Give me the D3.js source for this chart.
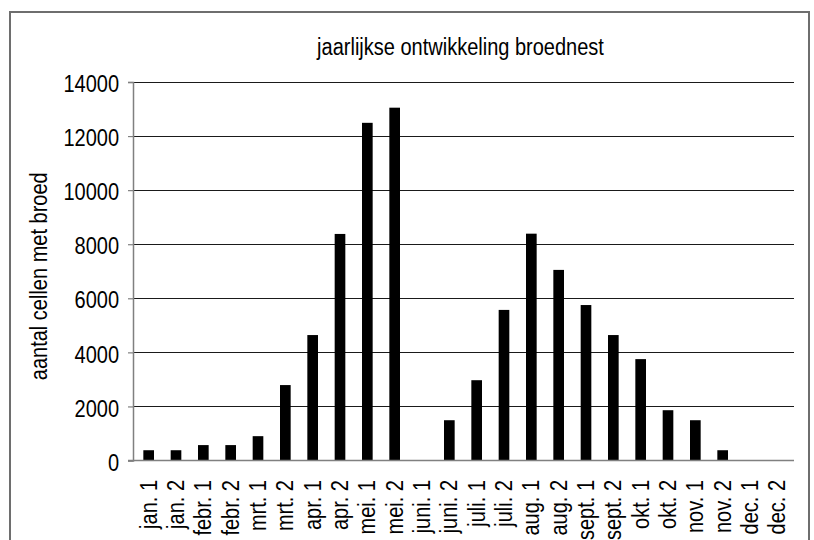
<!DOCTYPE html>
<html>
<head>
<meta charset="utf-8">
<script src="https://cdn.jsdelivr.net/npm/d3@7"></script>
<style>
  html, body { margin: 0; padding: 0; background: #fff; }
  svg text { font-family: "Liberation Sans", Arial, sans-serif; fill: #000; }
</style>
</head>
<body>
<svg id="chart" width="814" height="540"></svg>
<script>
const categories = ["jan. 1","jan. 2","febr. 1","febr. 2","mrt. 1","mrt. 2","apr. 1","apr. 2","mei. 1","mei. 2",
  "juni. 1","juni. 2","juli. 1","juli. 2","aug. 1","aug. 2","sept. 1","sept. 2","okt. 1","okt. 2","nov. 1","nov. 2","dec. 1","dec. 2"];
const values = [380, 380, 570, 570, 900, 2790, 4640, 8380, 12490, 13050,
  0, 1490, 2970, 5570, 8390, 7050, 5750, 4640, 3750, 1860, 1490, 380, 0, 0];
const yTicks = [0, 2000, 4000, 6000, 8000, 10000, 12000, 14000];
const title = "jaarlijkse ontwikkeling broednest";
const yTitle = "aantal cellen met broed";

const svg = d3.select("#chart");
const pLeft = 133, pRight = 794, pTop = 82, pBottom = 460.5;
const SX = 0.87;          // horizontal compression to mimic a condensed face
const FS = "23px";

// outer frame
svg.append("rect").attr("x", 10).attr("y", 12).attr("width", 799).attr("height", 540)
  .attr("fill", "none").attr("stroke", "#6e6e6e").attr("stroke-width", 2);

const x = d3.scaleBand().domain(categories).range([135, 791]).paddingInner(0.61).paddingOuter(0.305);
const y = d3.scaleLinear().domain([0, 14000]).range([pBottom, pTop]);

// gridlines
svg.append("g").selectAll("line").data(yTicks.filter(d => d > 0)).join("line")
  .attr("x1", pLeft).attr("x2", pRight)
  .attr("y1", d => Math.round(y(d)) + 0.5).attr("y2", d => Math.round(y(d)) + 0.5)
  .attr("stroke", "#1a1a1a").attr("stroke-width", 1.2);

// y axis
const yAxis = d3.axisLeft(y).tickValues(yTicks).tickSize(5).tickPadding(0).tickFormat(d3.format("d"));
const gy = svg.append("g").attr("transform", `translate(${pLeft},0)`).call(yAxis);
gy.select(".domain").attr("stroke", "#808080").attr("stroke-width", 1.5);
gy.selectAll(".tick line").attr("stroke", "#808080").attr("stroke-width", 1.2);
gy.selectAll(".tick text").style("font-size", FS).attr("fill", "#000")
  .attr("transform", `scale(${SX},1)`).attr("x", -14 / SX).attr("dy", "0.42em");

// bars
svg.append("g").selectAll("rect").data(values).join("rect")
  .attr("x", (d, i) => x(categories[i]))
  .attr("width", x.bandwidth())
  .attr("y", d => y(d))
  .attr("height", d => y(0) - y(d))
  .attr("fill", "#000");

// x axis
const xAxis = d3.axisBottom(x).tickSize(0).tickPadding(0);
const gx = svg.append("g").attr("transform", `translate(0,${pBottom})`).call(xAxis);
gx.select(".domain").attr("stroke", "#808080").attr("stroke-width", 1.5).attr("d", `M${pLeft - 5},0H${pRight}`);
gx.selectAll(".tick text")
  .style("font-size", FS)
  .attr("text-anchor", "end")
  .attr("transform", `rotate(-90) scale(${SX},1)`)
  .attr("x", -19.5 / SX).attr("y", 0).attr("dy", "0.34em");

// title
svg.append("text").attr("transform", `translate(460.5,54.5) scale(${SX},1)`)
  .attr("text-anchor", "middle").style("font-size", FS).text(title);

// y title
svg.append("text").attr("transform", `translate(47,${(pTop + pBottom) / 2 + 5}) rotate(-90) scale(${SX},1)`)
  .attr("text-anchor", "middle").style("font-size", FS).text(yTitle);
</script>
</body>
</html>
